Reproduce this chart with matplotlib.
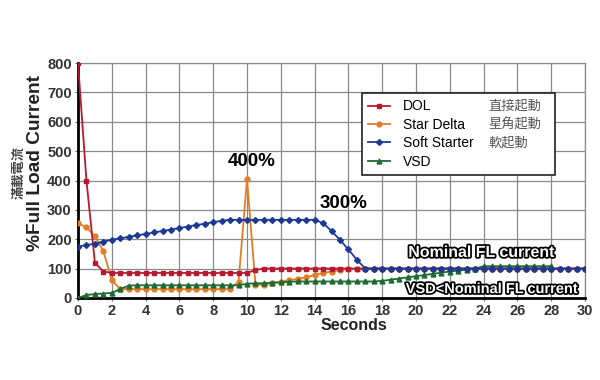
import numpy as np
import matplotlib
matplotlib.use("Agg")
import matplotlib.pyplot as plt
import matplotlib.patheffects as pe

plt.rcParams['font.family'] = ['Liberation Sans', 'Noto Sans CJK TC']

# time axis, samples every 0.5 s
t = np.arange(0, 30.5, 0.5)

dol = [800, 400, 120, 90] + [85] * 17 + [95] + [100] * 39
star_delta = ([255, 240, 210, 160, 60] + [30] * 14 +
              [55, 405, 45, 45, 50, 55, 60, 65, 70, 78, 85, 90, 95, 98] +
              [100] * 28)
soft_starter = ([175, 180, 185, 192, 198, 203, 208, 213, 218, 223, 228, 233,
                 238, 243, 248, 253, 258, 263, 266] + [266] * 10 +
                [255, 228, 198, 165, 130, 100] + [100] * 26)
vsd = ([0, 10, 13, 15, 17, 30, 42] + [43] * 13 +
       [48, 50, 50, 52, 53, 55, 56] + [56] * 9 +
       [58, 62, 66, 70, 74, 78, 82, 86, 90, 93, 96, 100] + [108] + [108] * 8)

names = ["DOL", "Star Delta", "Soft Starter", "VSD"]
names_zh = ["直接起動", "星角起動", "軟起動", ""]

fig = plt.figure(figsize=(6, 3.8), dpi=100)
ax = fig.add_axes([0.13, 0.216, 0.845, 0.618])

l_sd, = ax.plot(t, star_delta, color="#e27d27", marker="o", ms=3.5, lw=1.3, zorder=3)
l_dol, = ax.plot(t, dol, color="#b8192e", marker="s", ms=3.2, lw=1.3, zorder=4)
l_vsd, = ax.plot(t[:len(vsd)], vsd, color="#1e6a30", marker="^", ms=3.5, lw=1.3, zorder=5)
l_ss, = ax.plot(t, soft_starter, color="#1c3a94", marker="D", ms=3, lw=1.3, zorder=6)

ax.set_xlim(0, 30)
ax.set_ylim(0, 800)
ax.set_xticks(np.arange(0, 31, 2))
ax.set_yticks(np.arange(0, 801, 100))
ax.grid(True, color="#8a8a8a", lw=0.9)
ax.set_axisbelow(True)
ax.tick_params(length=2.5, width=0.8, color="#666666", pad=2,
               labelsize=10.5, labelcolor="#333333")
for lab in ax.get_xticklabels() + ax.get_yticklabels():
    lab.set_fontweight("bold")
for s in ["left", "bottom"]:
    ax.spines[s].set_color("black")
    ax.spines[s].set_linewidth(2)
for s in ["top", "right"]:
    ax.spines[s].set_color("#8a8a8a")
    ax.spines[s].set_linewidth(0.9)

ax.set_xlabel("Seconds", fontsize=11.5, fontweight="bold", labelpad=0,
              color="#222222")
ax.xaxis.label.set_x(0.544)
fig.text(36 / 600, 1 - 163 / 380, "%Full Load Current", rotation=90,
         fontsize=13.8, fontweight="bold", color="#222222",
         ha="center", va="center")
fig.text(18 / 600, 1 - 172 / 380, "滿載電流", rotation=90, fontsize=9.5,
         family="Noto Sans CJK TC", fontweight="bold", color="#444444",
         ha="center", va="center")

ax.text(10.3, 465, "400%", fontsize=13.5, fontweight="bold", ha="center", va="center")
ax.text(15.7, 322, "300%", fontsize=13.5, fontweight="bold", ha="center", va="center")

outline = [pe.withStroke(linewidth=2.5, foreground="black")]
ax.text(23.9, 155, "Nominal FL current", fontsize=11.5, fontweight="bold",
        color="white", ha="center", va="center", path_effects=outline, zorder=7)
ax.text(24.5, 30, "VSD<Nominal FL current", fontsize=10.5, fontweight="bold",
        color="white", ha="center", va="center", path_effects=outline, zorder=7)

leg = ax.legend([l_dol, l_sd, l_ss, l_vsd], names, loc="upper left",
                bbox_to_anchor=(0.56, 0.523, 0.381, 0.349), mode="expand",
                borderaxespad=0, frameon=True, fancybox=False,
                edgecolor="#222222", framealpha=1, fontsize=10,
                handlelength=1.6, handletextpad=0.9, labelspacing=0.32,
                borderpad=0.45)
leg.get_frame().set_linewidth(1.2)
leg.set_zorder(10)

fig.canvas.draw()
for txt, zh in zip(leg.get_texts(), names_zh):
    if not zh:
        continue
    bb = txt.get_window_extent()
    fig.text(488, (bb.y0 + bb.y1) / 2, zh, transform=None, fontsize=9.5,
             family="Noto Sans CJK TC", color="#555555", va="center",
             ha="left", zorder=11)

fig.savefig("out.png")
